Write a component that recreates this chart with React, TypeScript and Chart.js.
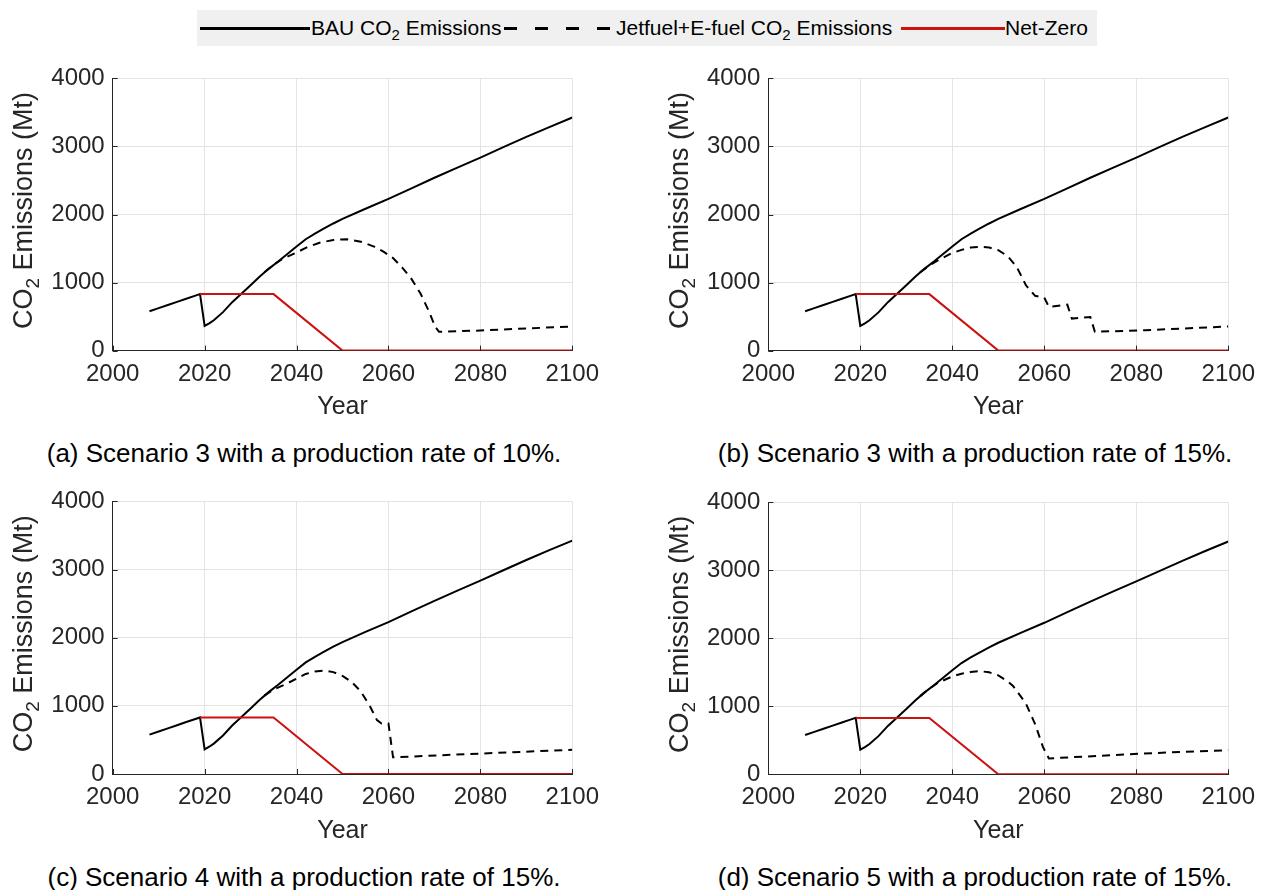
import React, { useEffect, useRef } from 'react';
import { Chart, registerables } from 'chart.js';

Chart.register(...registerables);

// ---------- data ----------
const bauYears = [2008, 2010, 2012, 2014, 2016, 2018, 2019, 2020, 2021, 2022, 2024, 2026, 2028, 2030, 2032, 2034, 2036, 2038, 2040, 2042, 2044, 2046, 2048, 2050, 2055, 2060, 2065, 2070, 2075, 2080, 2085, 2090, 2095, 2100];
const bauValues = [578, 624, 670, 716, 762, 808, 830, 362, 400, 446, 565, 712, 835, 960, 1090, 1205, 1310, 1420, 1530, 1637, 1720, 1795, 1868, 1935, 2085, 2229, 2385, 2540, 2690, 2837, 2990, 3140, 3285, 3425];

const netZeroYears = [2019, 2035, 2050, 2100];
const netZeroValues = [830, 830, 0, 0];

const jetYearsA = [2033, 2035, 2037, 2040, 2042, 2045, 2048, 2051, 2054, 2057, 2059, 2061, 2063, 2065, 2067, 2068.7, 2070.2, 2071, 2080, 2090, 2100];
const jetValuesA = [1150, 1260, 1350, 1440, 1510, 1585, 1625, 1637, 1600, 1525, 1450, 1360, 1220, 1054, 835, 592, 348, 276, 295, 325, 355];

const jetYearsB = [2033, 2035, 2037, 2040, 2042, 2044, 2046, 2048, 2050, 2052, 2054, 2056, 2058, 2060, 2061, 2065, 2066, 2070, 2071, 2082, 2100];
const jetValuesB = [1150, 1250, 1330, 1435, 1480, 1515, 1525, 1515, 1475, 1390, 1230, 960, 805, 780, 640, 675, 470, 494, 276, 300, 355];

const jetYearsC = [2033, 2035, 2038, 2040, 2042, 2044, 2046, 2048, 2050, 2052, 2054, 2056, 2057.5, 2058.5, 2060, 2061, 2080, 2100];
const jetValuesC = [1150, 1240, 1330, 1400, 1468, 1505, 1518, 1495, 1440, 1350, 1210, 990, 790, 740, 740, 245, 300, 355];

const jetYearsD = [2033, 2035, 2037, 2040, 2042, 2044, 2046, 2048, 2050, 2052, 2053.2, 2055, 2056, 2058, 2059.7, 2061, 2081, 2100];
const jetValuesD = [1150, 1260, 1350, 1440, 1478, 1505, 1518, 1500, 1455, 1370, 1300, 1135, 1040, 740, 403, 233, 305, 355];

const xTickValues = [2000, 2020, 2040, 2060, 2080, 2100];
const yTickValues = [0, 1000, 2000, 3000, 4000];

const captionA = '(a) Scenario 3 with a production rate of 10%.';
const captionB = '(b) Scenario 3 with a production rate of 15%.';
const captionC = '(c) Scenario 4 with a production rate of 15%.';
const captionD = '(d) Scenario 5 with a production rate of 15%.';

// ---------- style ----------
const FONT = '"Liberation Sans", Arial, Helvetica, sans-serif';
const AXIS_COLOR = '#262626';
const GRID_COLOR = '#e3e3e3';
const RED = '#cc1111';

const toPoints = (xs: number[], ys: number[]) => xs.map((x, i) => ({ x, y: ys[i] }));

const decorPlugin = {
  id: 'decor',
  afterDraw(chart: any) {
    const { ctx, chartArea } = chart;
    const opts = chart.options.plugins.decor;
    const xs = chart.scales.x;
    const ys = chart.scales.y;
    ctx.save();
    // inward ticks
    ctx.strokeStyle = AXIS_COLOR;
    ctx.lineWidth = 1;
    ctx.beginPath();
    xTickValues.forEach((v) => {
      const px = Math.round(xs.getPixelForValue(v)) + 0.5;
      ctx.moveTo(px, chartArea.bottom);
      ctx.lineTo(px, chartArea.bottom - 5);
    });
    yTickValues.forEach((v) => {
      const py = Math.round(ys.getPixelForValue(v)) + 0.5;
      ctx.moveTo(chartArea.left, py);
      ctx.lineTo(chartArea.left + 5, py);
    });
    ctx.stroke();

    ctx.fillStyle = AXIS_COLOR;
    // x title
    ctx.font = `25px ${FONT}`;
    ctx.textAlign = 'center';
    ctx.textBaseline = 'middle';
    ctx.fillText('Year', (chartArea.left + chartArea.right) / 2, chartArea.bottom + 57);

    // y title with subscript
    const bigSize = 27;
    const big = `${bigSize}px ${FONT}`;
    const small = `19px ${FONT}`;
    ctx.translate(opts.yTitleX, (chartArea.top + chartArea.bottom) / 2 - 4);
    ctx.rotate(-Math.PI / 2);
    ctx.font = big;
    const w1 = ctx.measureText('CO').width;
    const w3 = ctx.measureText(' Emissions (Mt)').width;
    ctx.font = small;
    const w2 = ctx.measureText('2').width;
    let x = -(w1 + w2 + w3) / 2;
    const base = bigSize * 0.716 / 2;
    ctx.textAlign = 'left';
    ctx.textBaseline = 'alphabetic';
    ctx.font = big;
    ctx.fillText('CO', x, base);
    x += w1;
    ctx.font = small;
    ctx.fillText('2', x, base + 7);
    x += w2;
    ctx.font = big;
    ctx.fillText(' Emissions (Mt)', x, base);
    ctx.restore();
  },
};

type PanelProps = {
  canvasLeft: number;
  chartLeft: number;
  chartRight: number;
  chartTop: number;
  chartBottom: number;
  jetYears: number[];
  jetValues: number[];
  yTitleX: number;
};

function Panel(p: PanelProps) {
  const ref = useRef<HTMLCanvasElement>(null);
  const canvasTop = Math.floor(p.chartTop - 20);
  const canvasW = Math.ceil(p.chartRight + 34 - p.canvasLeft);
  const canvasH = Math.ceil(p.chartBottom - canvasTop + 82);
  useEffect(() => {
    if (!ref.current) return;
    const padTop = p.chartTop - canvasTop;
    const padRight = p.canvasLeft + canvasW - p.chartRight;
    const yAxisW = p.chartLeft - p.canvasLeft;
    const xAxisH = canvasTop + canvasH - p.chartBottom;
    const tickFont = { family: FONT, size: 24 };
    const chart = new Chart(ref.current, {
      type: 'line',
      data: {
        datasets: [
          {
            label: 'BAU',
            data: toPoints(bauYears, bauValues),
            borderColor: '#000000',
            borderWidth: 2,
            pointRadius: 0,
            tension: 0,
            order: 2,
          },
          {
            label: 'Jetfuel+E-fuel',
            data: toPoints(p.jetYears, p.jetValues),
            borderColor: '#000000',
            borderWidth: 2,
            borderDash: [8, 6],
            pointRadius: 0,
            tension: 0,
            order: 1,
          },
          {
            label: 'Net-Zero',
            data: toPoints(netZeroYears, netZeroValues),
            borderColor: RED,
            borderWidth: 2,
            pointRadius: 0,
            tension: 0,
            order: 0,
          },
        ],
      },
      options: {
        animation: false,
        responsive: false,
        maintainAspectRatio: false,
        parsing: false as any,
        layout: { padding: { left: 0, top: padTop, right: padRight, bottom: 0 } },
        plugins: {
          legend: { display: false },
          tooltip: { enabled: false },
          decor: { yTitleX: p.yTitleX - p.canvasLeft },
        } as any,
        scales: {
          x: {
            type: 'linear',
            min: 2000,
            max: 2100,
            afterBuildTicks: (s: any) => {
              s.ticks = xTickValues.map((v) => ({ value: v }));
            },
            afterFit: (s: any) => {
              s.height = xAxisH;
            },
            grid: { color: GRID_COLOR, drawTicks: false, lineWidth: 1 },
            border: { display: true, color: AXIS_COLOR, width: 1 },
            ticks: {
              padding: 9,
              font: tickFont,
              color: AXIS_COLOR,
              maxRotation: 0,
              autoSkip: false,
              callback: (v: any) => String(v),
            },
          },
          y: {
            type: 'linear',
            min: 0,
            max: 4000,
            afterBuildTicks: (s: any) => {
              s.ticks = yTickValues.map((v) => ({ value: v }));
            },
            afterFit: (s: any) => {
              s.width = yAxisW;
            },
            grid: { color: GRID_COLOR, drawTicks: false, lineWidth: 1 },
            border: { display: true, color: AXIS_COLOR, width: 1 },
            ticks: {
              padding: 8,
              font: tickFont,
              color: AXIS_COLOR,
              autoSkip: false,
              callback: (v: any) => String(v),
            },
          },
        },
      } as any,
      plugins: [decorPlugin],
    });
    return () => chart.destroy();
  }, []);
  return (
    <canvas
      ref={ref}
      width={canvasW}
      height={canvasH}
      style={{ position: 'absolute', left: p.canvasLeft, top: canvasTop, width: canvasW, height: canvasH }}
    />
  );
}

function Caption({ text, cx, top }: { text: string; cx: number; top: number }) {
  return (
    <div
      style={{
        position: 'absolute',
        left: cx - 320,
        width: 640,
        top,
        textAlign: 'center',
        fontFamily: FONT,
        fontSize: 26,
        lineHeight: '30px',
        color: '#000',
        whiteSpace: 'nowrap',
      }}
    >
      {text}
    </div>
  );
}

const legendText: React.CSSProperties = {
  position: 'absolute',
  top: 0,
  height: 36,
  lineHeight: '36px',
  fontFamily: FONT,
  fontSize: 21,
  color: '#000',
  whiteSpace: 'nowrap',
};

function Legend() {
  return (
    <div
      style={{
        position: 'absolute',
        left: 197,
        top: 10,
        width: 900,
        height: 36,
        background: '#f0f0f0',
      }}
    >
      <div style={{ position: 'absolute', left: 3, top: 17, width: 110, height: 3, background: '#000' }} />
      <div style={{ ...legendText, left: 114 }}>
        BAU CO<sub style={{ fontSize: 15 }}>2</sub> Emissions
      </div>
      <div
        style={{
          position: 'absolute',
          left: 307,
          top: 17,
          width: 108,
          height: 3,
          background: 'repeating-linear-gradient(to right, #000 0px, #000 13px, transparent 13px, transparent 31px)',
        }}
      />
      <div style={{ ...legendText, left: 419 }}>
        Jetfuel+E-fuel CO<sub style={{ fontSize: 15 }}>2</sub> Emissions
      </div>
      <div style={{ position: 'absolute', left: 704, top: 17, width: 104, height: 3, background: RED }} />
      <div style={{ ...legendText, left: 808 }}>Net-Zero</div>
    </div>
  );
}

export default function App() {
  return (
    <div style={{ position: 'absolute', left: 0, top: 0, width: 1266, height: 890, background: '#fff', overflow: 'hidden' }}>
      <Legend />
      <Panel canvasLeft={0} chartLeft={112.7} chartRight={574} chartTop={76.2} chartBottom={350.6} jetYears={jetYearsA} jetValues={jetValuesA} yTitleX={22.5} />
      <Panel canvasLeft={640} chartLeft={768.3} chartRight={1229.3} chartTop={76.2} chartBottom={350.6} jetYears={jetYearsB} jetValues={jetValuesB} yTitleX={678} />
      <Panel canvasLeft={0} chartLeft={112.7} chartRight={574} chartTop={499.6} chartBottom={774} jetYears={jetYearsC} jetValues={jetValuesC} yTitleX={22.5} />
      <Panel canvasLeft={640} chartLeft={768.3} chartRight={1229.3} chartTop={500} chartBottom={774.3} jetYears={jetYearsD} jetValues={jetValuesD} yTitleX={678} />
      <Caption text={captionA} cx={304} top={438} />
      <Caption text={captionB} cx={975} top={438} />
      <Caption text={captionC} cx={304} top={862} />
      <Caption text={captionD} cx={975} top={862} />
    </div>
  );
}
